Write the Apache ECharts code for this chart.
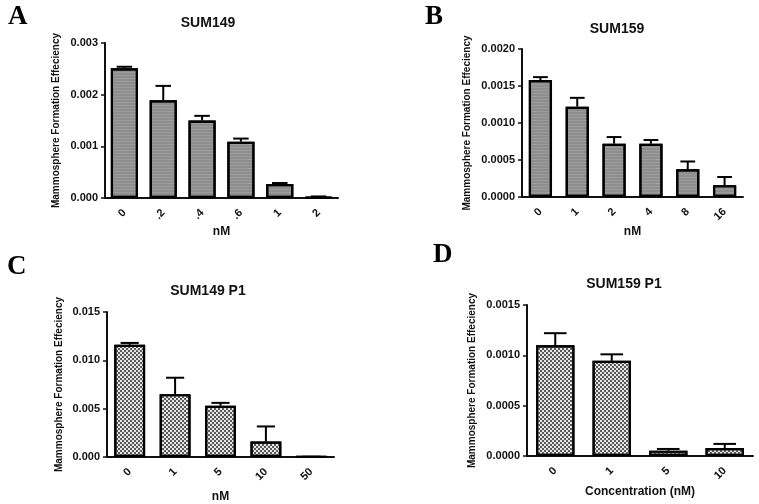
<!DOCTYPE html>
<html><head><meta charset="utf-8">
<script src="https://cdn.jsdelivr.net/npm/echarts@6/dist/echarts.min.js"></script>
<style>html,body{margin:0;padding:0;background:#fff}#c{width:759px;height:504px}</style>
</head><body><div id="c"></div>
<script>
// Panel A: SUM149
const catsA = ['0', '.2', '.4', '.6', '1', '2'];
const meanA = [0.00251, 0.00189, 0.00150, 0.00109, 0.00027, 0.00002];
const errA  = [0.00254, 0.00217, 0.00159, 0.00115, 0.00029, 0.00003];
// Panel B: SUM159
const catsB = ['0', '1', '2', '4', '8', '16'];
const meanB = [0.00158, 0.00122, 0.00072, 0.00072, 0.000375, 0.00016];
const errB  = [0.00162, 0.00134, 0.00081, 0.00077, 0.00048, 0.00027];
// Panel C: SUM149 P1
const catsC = ['0', '1', '5', '10', '50'];
const meanC = [0.0116, 0.0065, 0.0053, 0.0016, 0.00002];
const errC  = [0.0118, 0.0082, 0.0056, 0.00316, 0.00003];
// Panel D: SUM159 P1
const catsD = ['0', '1', '5', '10'];
const meanD = [0.00110, 0.000945, 0.000053, 0.00008];
const errD  = [0.00122, 0.00101, 0.00007, 0.00012];

const panels = [
  {letter:'A', title:'SUM149', cats:catsA, mean:meanA, err:errA, max:0.003, interval:0.001, dec:3, xname:'nM',
   grid:{left:105, right:421, top:43, bottom:306}, ygap:44, xgap:28, bw:'70%', lx:8, ly:4, tx:203, ty:11, fill:'ab'},
  {letter:'B', title:'SUM159', cats:catsB, mean:meanB, err:errB, max:0.002, interval:0.0005, dec:4, xname:'nM',
   grid:{left:522, right:16, top:49, bottom:307}, ygap:50, xgap:29, bw:'63%', lx:425, ly:4, tx:612, ty:17, fill:'ab'},
  {letter:'C', title:'SUM149 P1', cats:catsC, mean:meanC, err:errC, max:0.015, interval:0.005, dec:3, xname:'nM',
   grid:{left:107, right:425, top:312, bottom:42}, ygap:43, xgap:34, bw:'68%', lx:7, ly:254, tx:203, ty:279, fill:'cd'},
  {letter:'D', title:'SUM159 P1', cats:catsD, mean:meanD, err:errD, max:0.0015, interval:0.0005, dec:4, xname:'Concentration (nM)',
   grid:{left:527, right:6, top:305, bottom:48}, ygap:50, xgap:30, bw:'68%', lx:433, ly:242, tx:619, ty:272, fill:'cd'}
];

const FONT = 'Liberation Sans, Arial, sans-serif';
const option = {animation:false, backgroundColor:'#fff', grid:[], xAxis:[], yAxis:[], series:[], title:[], graphic:[]};

panels.forEach((p, i) => {
  option.grid.push(Object.assign({containLabel:false}, p.grid));
  option.title.push({text:p.title, left:p.tx, top:p.ty, textAlign:'center',
    textStyle:{fontFamily:FONT, fontWeight:'bold', fontSize:14, color:'#111'}});
  option.graphic.push({type:'text', left:p.lx, top:p.ly,
    style:{text:p.letter, fontFamily:'Liberation Serif, Times New Roman, serif', fontWeight:'bold', fontSize:27, fill:'#000'}});
  option.xAxis.push({type:'category', gridIndex:i, data:p.cats, boundaryGap:true,
    name:p.xname, nameLocation:'middle', nameGap:p.xgap,
    nameTextStyle:{fontFamily:FONT, fontWeight:'bold', fontSize:12, color:'#111'},
    axisLine:{lineStyle:{color:'#111', width:2}},
    axisTick:{alignWithLabel:true, length:5, lineStyle:{color:'#111', width:1.5}},
    axisLabel:{rotate:45, fontFamily:FONT, fontWeight:'bold', fontSize:11, color:'#111', margin:13},
    splitLine:{show:false}});
  option.yAxis.push({type:'value', gridIndex:i, min:0, max:p.max, interval:p.interval,
    name:'Mammosphere Formation Effeciency', nameLocation:'middle', nameGap:p.ygap, nameRotate:90,
    nameTextStyle:{fontFamily:FONT, fontWeight:'bold', fontSize:10, color:'#111'},
    axisLine:{show:true, lineStyle:{color:'#111', width:2}},
    axisTick:{show:true, length:4, lineStyle:{color:'#111', width:1.5}},
    axisLabel:{fontFamily:FONT, fontWeight:'bold', fontSize:11, color:'#111', margin:7,
      formatter:v => v.toFixed(p.dec)},
    splitLine:{show:false}});
  const itemStyle = p.fill === 'ab'
    ? {color:'#8e8e8e', borderColor:'#000', borderWidth:2.2,
       decal:{symbol:'rect', symbolSize:1, color:'rgba(255,255,255,0.12)', dashArrayX:[1,0], dashArrayY:[1,2], rotation:0}}
    : {color:'#e6e6e6', borderColor:'#000', borderWidth:2.2,
       decal:{symbol:'rect', symbolSize:1, color:'#5a5a5a', dashArrayX:[[2,2],[0,2,2,0]], dashArrayY:[2,0], rotation:0}};
  option.series.push({type:'bar', xAxisIndex:i, yAxisIndex:i, data:p.mean, barWidth:p.bw, itemStyle:itemStyle, z:2});
  option.series.push({type:'custom', xAxisIndex:i, yAxisIndex:i, z:3,
    data:p.mean.map((m, k) => [k, m, p.err[k]]),
    renderItem:(params, api) => {
      const x = api.value(0);
      const b = api.coord([x, api.value(1)]);
      const t = api.coord([x, api.value(2)]);
      const bandW = api.size([1, 0])[0];
      const half = bandW * 0.2;
      return {type:'group', children:[
        {type:'line', shape:{x1:b[0], y1:b[1], x2:t[0], y2:t[1]}, style:{stroke:'#000', lineWidth:2}},
        {type:'line', shape:{x1:t[0]-half, y1:t[1], x2:t[0]+half, y2:t[1]}, style:{stroke:'#000', lineWidth:2}}
      ]};
    }});
});

const chart = echarts.init(document.getElementById('c'), null, {renderer:'canvas'});
chart.setOption(option);
</script></body></html>
